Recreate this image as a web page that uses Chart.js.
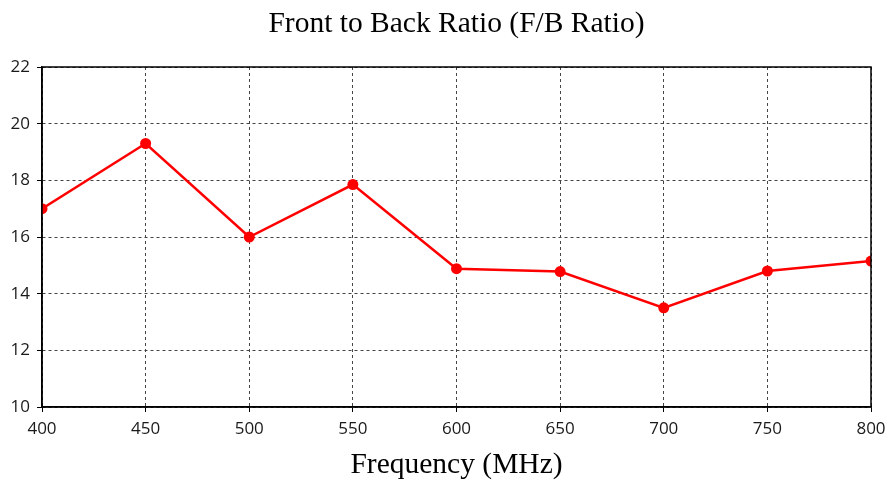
<!DOCTYPE html>
<html>
<head>
<meta charset="utf-8">
<script src="https://cdn.jsdelivr.net/npm/chart.js@4/dist/chart.umd.min.js"></script>
<style>
  html, body { margin: 0; padding: 0; background: #fff; }
  #wrap { width: 887px; height: 483px; }
</style>
</head>
<body>
<div id="wrap"><canvas id="fbChart" width="887" height="483"></canvas></div>
<script>
// frequency points (MHz) and F/B ratio
const freqs = [400, 450, 500, 550, 600, 650, 700, 750, 800]
const fbRatio = [17.0, 19.3, 16.0, 17.85, 14.88, 14.78, 13.5, 14.8, 15.15]
const yTicks = [10, 12, 14, 16, 18, 20, 22]

// solid frame round the plot, the grid lines themselves are dashed
const frame = {
  id: 'frame',
  afterDraw(chart) {
    const a = chart.chartArea, ctx = chart.ctx
    ctx.save()
    ctx.strokeStyle = '#000'
    ctx.lineWidth = 1.5
    ctx.strokeRect(a.left, a.top, a.right - a.left, a.bottom - a.top)
    ctx.restore()
  }
}

const tickFont = { family: '"Open Sans", "DejaVu Sans", sans-serif', size: 17 }
const serif = { family: '"Liberation Serif", "Times New Roman", serif', size: 29.5, weight: 'normal' }

const ctx = document.getElementById('fbChart').getContext('2d')
new Chart(ctx, {
  type: 'line',
  data: {
    datasets: [{
      label: 'F/B Ratio',
      data: freqs.map((f, i) => ({ x: f, y: fbRatio[i] })),
      borderColor: '#ff0000',
      backgroundColor: '#ff0000',
      borderWidth: 2.5,
      pointRadius: 5.5,
      pointBackgroundColor: '#ff0000',
      pointBorderWidth: 0,
      tension: 0
    }]
  },
  options: {
    responsive: false,
    animation: false,
    layout: { padding: { left: 0, right: 16, top: 0, bottom: 0 } },
    plugins: {
      legend: { display: false },
      tooltip: { enabled: false },
      title: {
        display: true,
        fullSize: false,
        text: 'Front to Back Ratio (F/B Ratio)',
        color: '#000',
        font: serif,
        padding: { top: 7, bottom: 24.6 }
      }
    },
    scales: {
      x: {
        type: 'linear',
        min: 400,
        max: 800,
        afterFit: s => { s.height = 76; s.paddingLeft = 0; s.paddingRight = 0 },
        ticks: {
          stepSize: 50,
          color: '#1a1a1a',
          padding: 7,
          font: tickFont
        },
        grid: { color: '#444', lineWidth: 1, tickLength: 5, tickBorderDash: [], tickColor: '#000' },
        border: { display: true, color: '#000', width: 1.5, dash: [3, 3] },
        title: {
          display: true,
          text: 'Frequency (MHz)',
          color: '#000',
          font: serif,
          padding: { top: 4, bottom: 0 }
        }
      },
      y: {
        min: 10,
        max: 22,
        afterFit: s => { s.width = 42 },
        afterBuildTicks: s => { s.ticks = yTicks.map(v => ({ value: v })) },
        ticks: {
          color: '#1a1a1a',
          padding: 7,
          font: tickFont
        },
        grid: { color: '#444', lineWidth: 1, tickLength: 5, tickBorderDash: [], tickColor: '#000' },
        border: { display: true, color: '#000', width: 1.5, dash: [3, 3] }
      }
    }
  },
  plugins: [frame]
})
</script>
</body>
</html>
